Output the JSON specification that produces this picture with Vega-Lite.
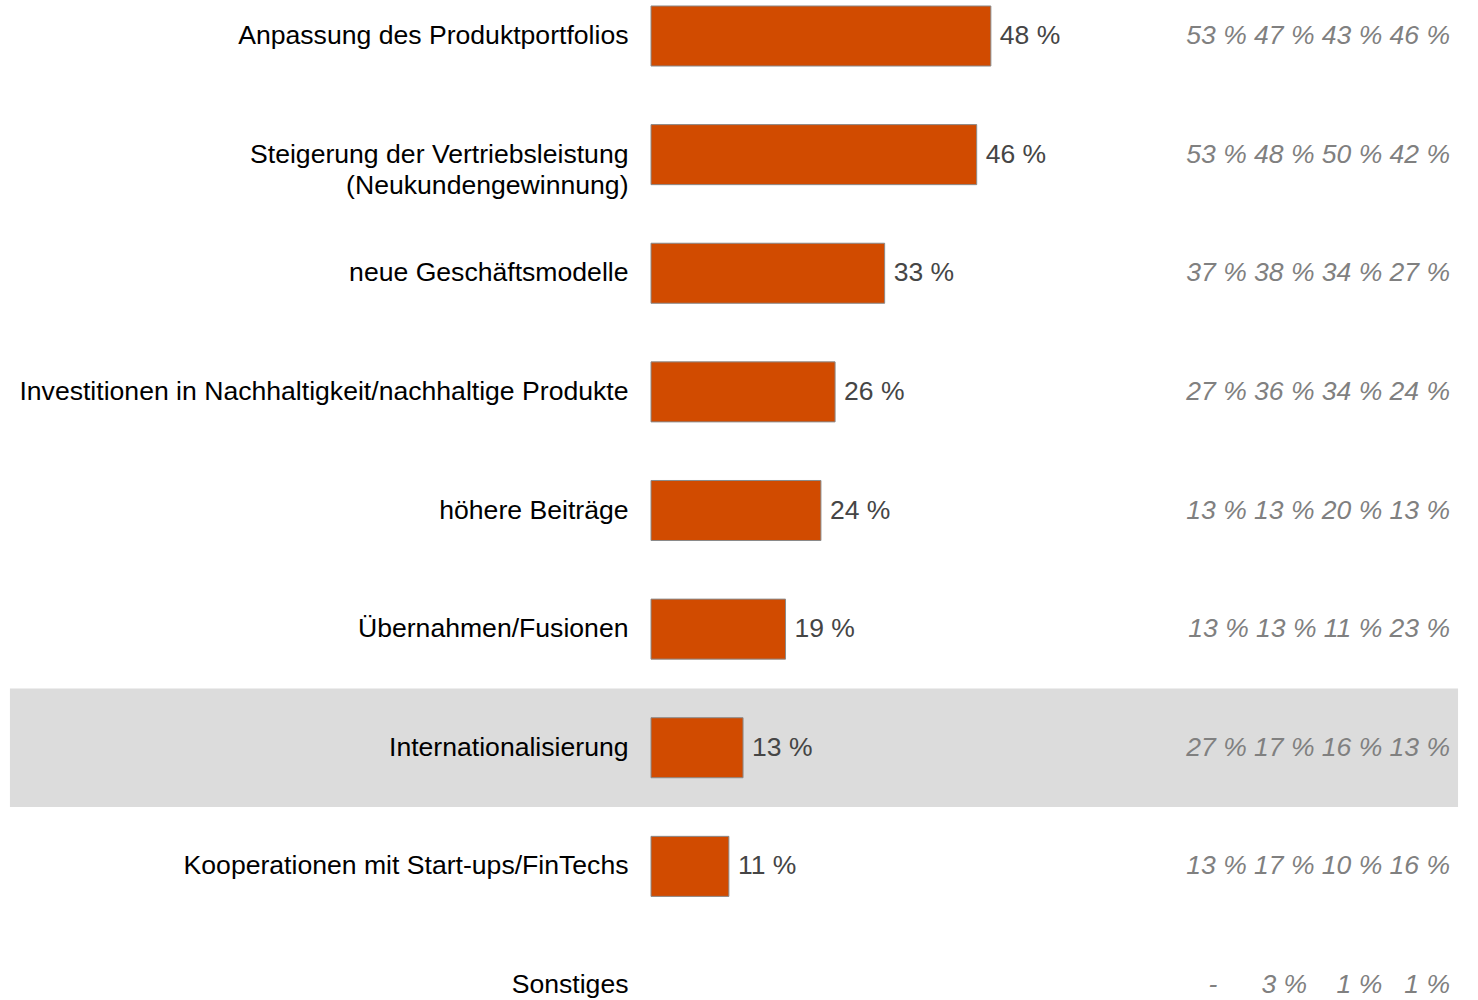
{
  "$schema": "https://vega.github.io/schema/vega-lite/v6.json",
  "width": 827,
  "height": 1000,
  "autosize": {"type": "none"},
  "padding": {"left": 651, "top": 0, "right": 0, "bottom": 0},
  "background": "white",
  "config": {"view": {"stroke": null}, "font": "Liberation Sans"},
  "data": {
    "values": [
      {"cat": "Anpassung des Produktportfolios", "value": 48, "trend": "53 % 47 % 43 % 46 %"},
      {"cat": "Steigerung der Vertriebsleistung|(Neukundengewinnung)", "value": 46, "trend": "53 % 48 % 50 % 42 %"},
      {"cat": "neue Geschäftsmodelle", "value": 33, "trend": "37 % 38 % 34 % 27 %"},
      {"cat": "Investitionen in Nachhaltigkeit/nachhaltige Produkte", "value": 26, "trend": "27 % 36 % 34 % 24 %"},
      {"cat": "höhere Beiträge", "value": 24, "trend": "13 % 13 % 20 % 13 %"},
      {"cat": "Übernahmen/Fusionen", "value": 19, "trend": "13 % 13 % 11 % 23 %"},
      {"cat": "Internationalisierung", "value": 13, "trend": "27 % 17 % 16 % 13 %"},
      {"cat": "Kooperationen mit Start-ups/FinTechs", "value": 11, "trend": "13 % 17 % 10 % 16 %"},
      {"cat": "Sonstiges", "value": null, "trend": "-\u00a0\u00a0\u00a0\u00a0\u00a0\u00a03 %\u00a0\u00a0\u00a0\u00a01 %\u00a0\u00a0\u00a01 %"}
    ]
  },
  "encoding": {
    "y": {
      "field": "cat",
      "type": "nominal",
      "sort": null,
      "scale": {
        "domain": [
          "Anpassung des Produktportfolios",
          "Steigerung der Vertriebsleistung|(Neukundengewinnung)",
          "neue Geschäftsmodelle",
          "Investitionen in Nachhaltigkeit/nachhaltige Produkte",
          "höhere Beiträge",
          "Übernahmen/Fusionen",
          "Internationalisierung",
          "Kooperationen mit Start-ups/FinTechs",
          "Sonstiges"
        ],
        "range": [-23.3, 1044.3],
        "paddingInner": 0,
        "paddingOuter": 0
      },
      "axis": {
        "title": null,
        "ticks": false,
        "domain": false,
        "grid": false,
        "labelPadding": 23,
        "labelFontSize": 26.6,
        "labelFont": "Liberation Sans",
        "labelColor": "#000000",
        "labelLimit": 700,
        "labelLineHeight": 31,
        "labelExpr": "split(datum.label, '|')"
      }
    }
  },
  "layer": [
    {
      "data": {"values": [{}]},
      "mark": {"type": "rect", "color": "#dcdcdc", "clip": false},
      "encoding": {
        "y": {"datum": "Internationalisierung", "type": "nominal"},
        "x": {"datum": -90.54, "type": "quantitative", "scale": {"domain": [0, 116.8], "nice": false, "zero": false}, "axis": null},
        "x2": {"datum": 113.98}
      }
    },
    {
      "mark": {"type": "bar", "color": "#d14b00", "stroke": "#8a8a8a", "strokeWidth": 1, "height": {"band": 0.506}},
      "encoding": {
        "x": {"field": "value", "type": "quantitative", "axis": null}
      }
    },
    {
      "mark": {"type": "text", "align": "left", "baseline": "middle", "dx": 9, "fontSize": 26.5, "font": "Liberation Sans", "color": "#454545", "text": {"expr": "datum.value + ' %'"}},
      "encoding": {
        "x": {"field": "value", "type": "quantitative"}
      }
    },
    {
      "mark": {"type": "text", "align": "right", "baseline": "middle", "fontSize": 26.5, "font": "Liberation Sans", "fontStyle": "italic", "color": "#808080", "clip": false},
      "encoding": {
        "x": {"datum": 112.85, "type": "quantitative"},
        "text": {"field": "trend", "type": "nominal"}
      }
    }
  ]
}
